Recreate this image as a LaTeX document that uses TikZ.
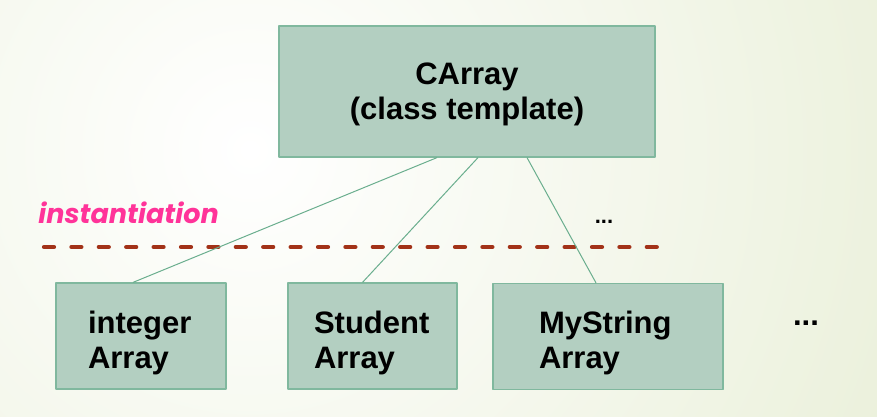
\documentclass[tikz,border=0pt]{standalone}
\usepackage{fontspec}
\setmainfont{Liberation Sans}
\newfontfamily\gothic{Poppins}
\definecolor{boxfill}{HTML}{B3CFC1}
\definecolor{boxline}{HTML}{80B89E}
\definecolor{linkc}{HTML}{6AAE8E}
\definecolor{dashc}{HTML}{A23218}
\definecolor{pinkc}{HTML}{FF3399}
\definecolor{bgc}{HTML}{DBE5BF}
\begin{document}
\begin{tikzpicture}[x=.5pt,y=-.5pt,font=\fontsize{15.5}{17.5}\selectfont\bfseries,line join=round,
	box/.style={draw=boxline,fill=boxfill,line width=.6pt,inner ysep=0pt,minimum height=53pt},
	inst/.style={box,align=left,inner xsep=#1,text height=18pt},
	link/.style={draw=linkc,line width=.5pt}]
	\useasboundingbox (0,0) rectangle (877,417);
	\begin{scope}
		\clip (0,0) rectangle (877,417);
		\shade[inner color=white,outer color=bgc] (250,150) circle (1250);
	\end{scope}
	\coordinate (dl) at (44,247);
	\coordinate (dr) at (658,247);
	\draw[dashc,line width=2.1pt,line cap=round,dash pattern=on 5pt off 8.7pt] (dl)--(dr);
	\node[box,minimum width=188pt,minimum height=65.5pt,align=center,text height=31.5pt] (carr) at (467,91.5) {CArray\\(class template)};
	\node[inst=16pt,text width=53pt] (intArr) at (141,336) {integer\\Array};
	\node[inst=13pt,text width=58.5pt] (stuArr) at (372.5,336) {Student\\Array};
	\node[inst=23pt,text width=69pt] (strArr) at (608,336.5) {MyString\\Array};
	\foreach \a/\b/\c in {-15/intArr/-4,5.5/stuArr/-5,30/strArr/-6}
	\draw[link] ([xshift=\a pt]carr.south)--([xshift=\c pt]\b.north);
	\node[pinkc,font=\fontsize{13.5}{15}\selectfont\gothic\bfseries\itshape,anchor=west,inner sep=0pt] (instn) at (38,213) {instantiation};
	\node[font=\fontsize{11}{13}\selectfont\bfseries] (dotsA) at (604,222) {...};
	\node (dotsB) at (806,323) {...};
\end{tikzpicture}
\end{document}
